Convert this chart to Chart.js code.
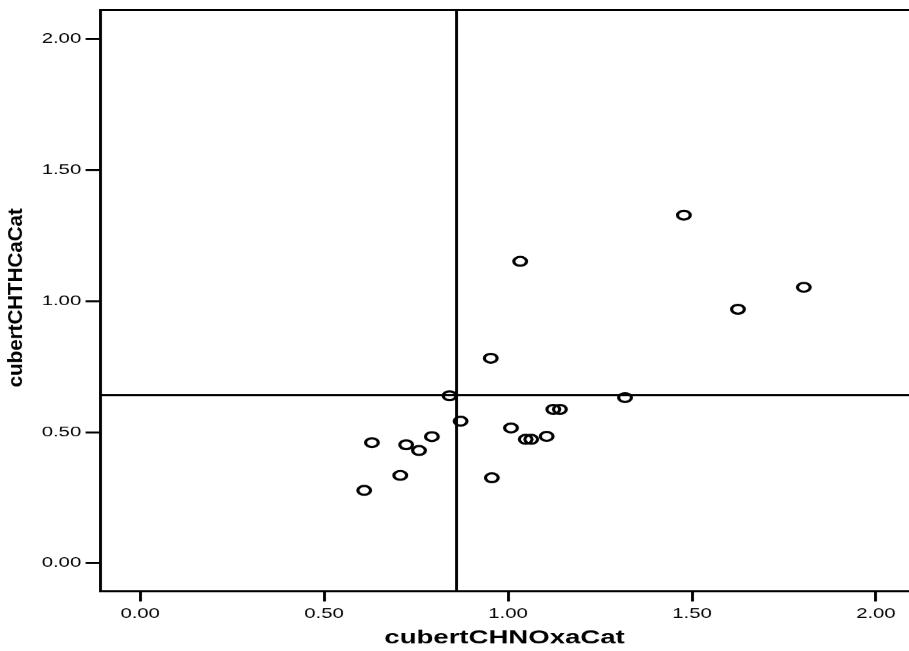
<!DOCTYPE html>
<html>
<head>
<meta charset="utf-8">
<script src="https://cdn.jsdelivr.net/npm/chart.js@4"></script>
<style>
  html, body { margin: 0; padding: 0; background: #fff; overflow: hidden; }
  /* the reference is a stretched export, so the whole chart is drawn narrow and widened */
  #wrap { width: 627px; height: 651px; transform: scaleX(1.4498); transform-origin: 0 0; }
</style>
</head>
<body>
<div id="wrap"><canvas id="chart" width="627" height="651"></canvas></div>
<script>
// values
var xValues = [1.478, 1.033, 1.804, 1.625, 0.953, 0.841, 1.318, 1.123, 1.141, 0.871, 1.008,
               1.048, 1.063, 1.105, 0.793, 0.630, 0.723, 0.758, 0.707, 0.956, 0.609]
var yValues = [1.328, 1.152, 1.053, 0.969, 0.782, 0.639, 0.632, 0.587, 0.587, 0.542, 0.516,
               0.473, 0.473, 0.484, 0.483, 0.460, 0.452, 0.430, 0.335, 0.326, 0.278]
var xTicks = [0, 0.5, 1, 1.5, 2]
var yTicks = [0, 0.5, 1, 1.5, 2]
var refX = 0.86
var refY = 0.641

var xTitle = 'cubertCHNOxaCat'
var yTitle = 'cubertCHTHCaCat'

var stretch = 909 / 627
var fontFamily = "'Liberation Sans', Arial, sans-serif"

var points = xValues.map(function (x, i) {
  return { x: x, y: yValues[i] }
})

// top border, reference lines and the y title
var framePlugin = {
  id: 'frame',
  beforeDatasetsDraw: function (chart) {
    var ctx = chart.ctx
    var area = chart.chartArea
    var xs = chart.scales.x
    var ys = chart.scales.y
    ctx.save()
    ctx.strokeStyle = '#000'
    ctx.lineWidth = 2
    ctx.beginPath()
    ctx.moveTo(area.left, area.top)
    ctx.lineTo(area.right, area.top)
    var px = xs.getPixelForValue(refX)
    ctx.moveTo(px, area.top)
    ctx.lineTo(px, area.bottom)
    var py = ys.getPixelForValue(refY)
    ctx.moveTo(area.left, py)
    ctx.lineTo(area.right, py)
    ctx.stroke()
    ctx.restore()
  },
  afterDraw: function (chart) {
    var ctx = chart.ctx
    ctx.save()
    ctx.translate(16 / stretch, 297.5)
    ctx.scale(1 / stretch, 1)
    ctx.rotate(-Math.PI / 2)
    ctx.fillStyle = '#000'
    ctx.font = 'bold 20.5px ' + fontFamily
    ctx.textAlign = 'center'
    ctx.textBaseline = 'middle'
    ctx.fillText(yTitle, 0, 0)
    ctx.restore()
  }
}

var tickFont = { family: fontFamily, size: 14 }

var config = {
  type: 'scatter',
  data: {
    datasets: [{
      data: points,
      pointRadius: 4.4,
      pointHoverRadius: 4.4,
      pointBorderWidth: 2.2,
      borderColor: '#000',
      backgroundColor: 'transparent'
    }]
  },
  options: {
    responsive: false,
    animation: false,
    devicePixelRatio: stretch,
    layout: { autoPadding: false, padding: { top: 10, right: 0, left: 0, bottom: 0 } },
    plugins: {
      legend: { display: false },
      tooltip: { enabled: false }
    },
    scales: {
      x: {
        type: 'linear',
        min: -0.109,
        max: 2.09,
        afterBuildTicks: function (scale) {
          scale.ticks = xTicks.map(function (v) { return { value: v } })
        },
        afterFit: function (scale) {
          scale.height = 60
          scale.paddingLeft = 0
          scale.paddingRight = 0
        },
        grid: { drawOnChartArea: false, drawTicks: true, tickLength: 10, color: '#000', lineWidth: 2 },
        border: { display: true, color: '#000', width: 2 },
        ticks: {
          color: '#000',
          padding: 4,
          font: tickFont,
          maxRotation: 0,
          autoSkip: false,
          callback: function (v) { return Number(v).toFixed(2) }
        },
        title: {
          display: true,
          text: xTitle,
          color: '#000',
          font: { family: fontFamily, size: 19, weight: 'bold' },
          padding: { top: 0, bottom: 2 }
        }
      },
      y: {
        type: 'linear',
        min: -0.108,
        max: 2.111,
        afterBuildTicks: function (scale) {
          scale.ticks = yTicks.map(function (v) { return { value: v } })
        },
        afterFit: function (scale) {
          scale.width = 69
          scale.paddingTop = 0
          scale.paddingBottom = 0
        },
        grid: { drawOnChartArea: false, drawTicks: true, tickLength: 10, color: '#000', lineWidth: 2 },
        border: { display: true, color: '#000', width: 2 },
        ticks: {
          color: '#000',
          padding: 3,
          font: tickFont,
          autoSkip: false,
          callback: function (v) { return Number(v).toFixed(2) }
        }
      }
    }
  },
  plugins: [framePlugin]
}

var ctx = document.getElementById('chart').getContext('2d')
var myChart = new Chart(ctx, config)
</script>
</body>
</html>
